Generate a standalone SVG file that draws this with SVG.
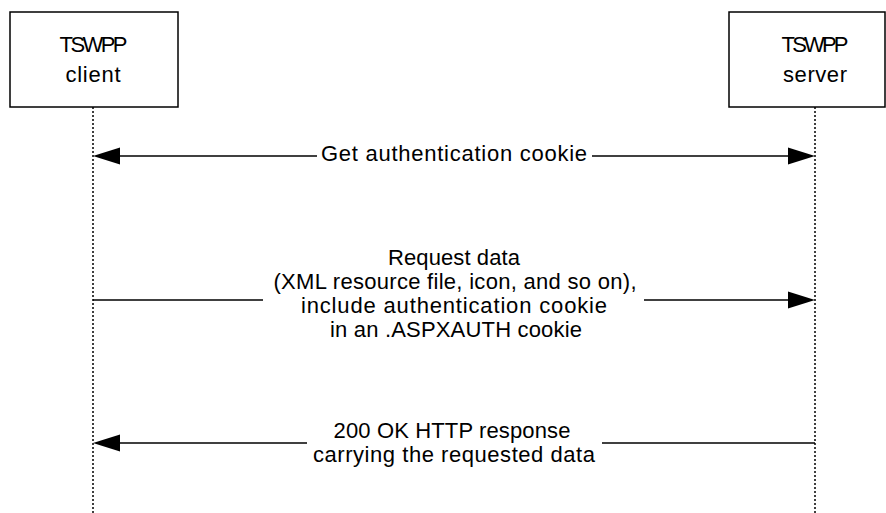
<svg xmlns="http://www.w3.org/2000/svg" width="886" height="513" viewBox="0 0 886 513">
<style>
.box{fill:#fff;stroke:#000;stroke-width:1.5}
.life{stroke:#000;stroke-width:1.5;stroke-dasharray:2,2;fill:none}
.msg{stroke:#000;stroke-width:1.6;fill:none}
.head{fill:#000;stroke:none}
text{font-family:"Liberation Sans",Arial,sans-serif;font-size:22px;fill:#000;text-anchor:middle}
</style>
<rect width="886" height="513" fill="#fff"/>
<g id="client">
<rect class="box" x="10" y="12" width="168" height="95"/>
<text x="93.5" y="52" textLength="68">TSWPP</text>
<text x="93" y="82" textLength="55">client</text>
</g>
<g id="server">
<rect class="box" x="729" y="12" width="156" height="95"/>
<text x="815" y="52" textLength="67">TSWPP</text>
<text x="815" y="82" textLength="64">server</text>
</g>
<g id="lifelines">
<line class="life" x1="93" y1="107" x2="93" y2="513"/>
<line class="life" x1="815" y1="107" x2="815" y2="513"/>
</g>
<g id="connectors">
<line class="msg" x1="118" y1="156" x2="317" y2="156"/>
<line class="msg" x1="592" y1="156" x2="790" y2="156"/>
<polygon class="head" points="93,156 120,147.5 120,164.5"/>
<polygon class="head" points="815,156 788,147.5 788,164.5"/>
<text x="454" y="161" textLength="266">Get authentication cookie</text>

<line class="msg" x1="93" y1="300" x2="263" y2="300"/>
<line class="msg" x1="644" y1="300" x2="790" y2="300"/>
<polygon class="head" points="815,300 788,291.5 788,308.5"/>
<text x="454" y="265" textLength="132">Request data</text>
<text x="455" y="289" textLength="363">(XML resource file, icon, and so on),</text>
<text x="454" y="313" textLength="306">include authentication cookie</text>
<text x="456" y="337" textLength="252">in an .ASPXAUTH cookie</text>

<line class="msg" x1="118" y1="443" x2="307" y2="443"/>
<line class="msg" x1="602" y1="443" x2="815" y2="443"/>
<polygon class="head" points="93,443 120,434.5 120,451.5"/>
<text x="452" y="438" textLength="237">200 OK HTTP response</text>
<text x="454" y="462" textLength="282">carrying the requested data</text>
</g>
</svg>
